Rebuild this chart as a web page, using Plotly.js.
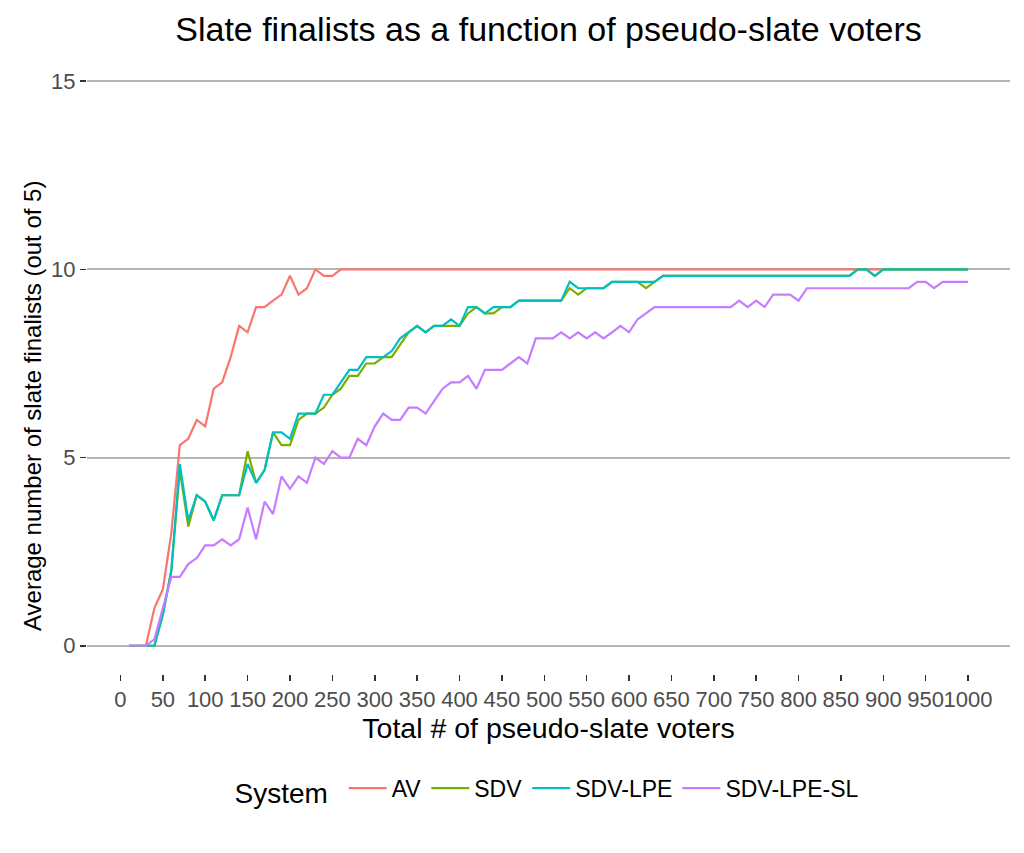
<!DOCTYPE html>
<html>
<head>
<meta charset="utf-8">
<script src="https://cdn.plot.ly/plotly-3.0.1.min.js"></script>
<style>
  html, body { margin: 0; padding: 0; background: #ffffff; }
  #chart { width: 1024px; height: 853px; }
</style>
</head>
<body>
<div id="chart"></div>
<script>
// Total # of pseudo-slate voters
const voters = [10, 20, 30, 40, 50, 60, 70, 80, 90, 100,
  110, 120, 130, 140, 150, 160, 170, 180, 190, 200,
  210, 220, 230, 240, 250, 260, 270, 280, 290, 300,
  310, 320, 330, 340, 350, 360, 370, 380, 390, 400,
  410, 420, 430, 440, 450, 460, 470, 480, 490, 500,
  510, 520, 530, 540, 550, 560, 570, 580, 590, 600,
  610, 620, 630, 640, 650, 660, 670, 680, 690, 700,
  710, 720, 730, 740, 750, 760, 770, 780, 790, 800,
  810, 820, 830, 840, 850, 860, 870, 880, 890, 900,
  910, 920, 930, 940, 950, 960, 970, 980, 990, 1000];

const systems = ["AV", "SDV", "SDV-LPE", "SDV-LPE-SL"];

const av = [0, 0, 0, 1.0, 1.5, 3.0, 5.33, 5.5, 6.0, 5.83,
  6.83, 7.0, 7.67, 8.5, 8.33, 9.0, 9.0, 9.17, 9.33, 9.83,
  9.33, 9.5, 10, 9.83, 9.83, 10, 10, 10, 10, 10,
  10, 10, 10, 10, 10, 10, 10, 10, 10, 10,
  10, 10, 10, 10, 10, 10, 10, 10, 10, 10,
  10, 10, 10, 10, 10, 10, 10, 10, 10, 10,
  10, 10, 10, 10, 10, 10, 10, 10, 10, 10,
  10, 10, 10, 10, 10, 10, 10, 10, 10, 10,
  10, 10, 10, 10, 10, 10, 10, 10, 10, 10,
  10, 10, 10, 10, 10, 10, 10, 10, 10, 10];

const sdv = [0, 0, 0, 0, 0.83, 2.0, 4.67, 3.17, 4.0, 3.83,
  3.33, 4.0, 4.0, 4.0, 5.17, 4.33, 4.67, 5.67, 5.33, 5.33,
  6.0, 6.17, 6.17, 6.33, 6.67, 6.83, 7.17, 7.17, 7.5, 7.5,
  7.67, 7.67, 8.0, 8.33, 8.5, 8.33, 8.5, 8.5, 8.5, 8.5,
  8.83, 9.0, 8.83, 8.83, 9.0, 9.0, 9.17, 9.17, 9.17, 9.17,
  9.17, 9.17, 9.5, 9.33, 9.5, 9.5, 9.5, 9.67, 9.67, 9.67,
  9.67, 9.5, 9.67, 9.83, 9.83, 9.83, 9.83, 9.83, 9.83, 9.83,
  9.83, 9.83, 9.83, 9.83, 9.83, 9.83, 9.83, 9.83, 9.83, 9.83,
  9.83, 9.83, 9.83, 9.83, 9.83, 9.83, 10, 10, 9.83, 10,
  10, 10, 10, 10, 10, 10, 10, 10, 10, 10];

const sdvLpe = [0, 0, 0, 0, 0.83, 2.0, 4.83, 3.33, 4.0, 3.83,
  3.33, 4.0, 4.0, 4.0, 4.83, 4.33, 4.67, 5.67, 5.67, 5.5,
  6.17, 6.17, 6.17, 6.67, 6.67, 7.0, 7.33, 7.33, 7.67, 7.67,
  7.67, 7.83, 8.17, 8.33, 8.5, 8.33, 8.5, 8.5, 8.67, 8.5,
  9.0, 9.0, 8.83, 9.0, 9.0, 9.0, 9.17, 9.17, 9.17, 9.17,
  9.17, 9.17, 9.67, 9.5, 9.5, 9.5, 9.5, 9.67, 9.67, 9.67,
  9.67, 9.67, 9.67, 9.83, 9.83, 9.83, 9.83, 9.83, 9.83, 9.83,
  9.83, 9.83, 9.83, 9.83, 9.83, 9.83, 9.83, 9.83, 9.83, 9.83,
  9.83, 9.83, 9.83, 9.83, 9.83, 9.83, 10, 10, 9.83, 10,
  10, 10, 10, 10, 10, 10, 10, 10, 10, 10];

const sdvLpeSl = [0, 0, 0, 0.17, 1.0, 1.83, 1.83, 2.17, 2.33, 2.67,
  2.67, 2.83, 2.67, 2.83, 3.67, 2.83, 3.83, 3.5, 4.5, 4.17,
  4.5, 4.33, 5.0, 4.83, 5.17, 5.0, 5.0, 5.5, 5.33, 5.83,
  6.17, 6.0, 6.0, 6.33, 6.33, 6.17, 6.5, 6.83, 7.0, 7.0,
  7.17, 6.83, 7.33, 7.33, 7.33, 7.5, 7.67, 7.5, 8.17, 8.17,
  8.17, 8.33, 8.17, 8.33, 8.17, 8.33, 8.17, 8.33, 8.5, 8.33,
  8.67, 8.83, 9.0, 9.0, 9.0, 9.0, 9.0, 9.0, 9.0, 9.0,
  9.0, 9.0, 9.17, 9.0, 9.17, 9.0, 9.33, 9.33, 9.33, 9.17,
  9.5, 9.5, 9.5, 9.5, 9.5, 9.5, 9.5, 9.5, 9.5, 9.5,
  9.5, 9.5, 9.5, 9.67, 9.67, 9.5, 9.67, 9.67, 9.67, 9.67];

const xTickVals = [0, 50, 100, 150, 200, 250, 300, 350, 400, 450, 500,
  550, 600, 650, 700, 750, 800, 850, 900, 950, 1000];
const yTickVals = [0, 5, 10, 15];

const colors = ["#F8766D", "#7CAE00", "#00BFC4", "#C77CFF"];
const seriesValues = [av, sdv, sdvLpe, sdvLpeSl];

const FONT = '"Liberation Sans", Arial, Helvetica, sans-serif';

const traces = systems.map((name, i) => ({
  type: 'scatter',
  mode: 'lines',
  name: name,
  x: voters,
  y: seriesValues[i],
  line: { color: colors[i], width: 2.2 },
  hoverinfo: 'skip'
}));

const layout = {
  width: 1024,
  height: 853,
  paper_bgcolor: '#ffffff',
  plot_bgcolor: '#ffffff',
  margin: { l: 87, r: 14, t: 53, b: 179 },
  font: { family: FONT, color: '#000000' },
  title: {
    text: 'Slate finalists as a function of pseudo-slate voters',
    font: { family: FONT, size: 34, color: '#000000' },
    x: 0.5, xref: 'paper', xanchor: 'center',
    y: 1 - 29 / 853, yref: 'container', yanchor: 'middle'
  },
  xaxis: {
    range: [-39.5, 1049.5],
    tickmode: 'array',
    tickvals: xTickVals,
    ticktext: xTickVals.map(String),
    showgrid: false,
    zeroline: false,
    showline: false,
    ticks: 'outside',
    ticklen: 6,
    tickwidth: 1.5,
    tickcolor: '#333333',
    tickfont: { family: FONT, size: 22, color: '#4d4d4d' },
    tickangle: 0,
    title: {
      text: 'Total # of pseudo-slate voters',
      font: { family: FONT, size: 28.5, color: '#000000' },
      standoff: 3
    }
  },
  yaxis: {
    range: [-0.75, 15.75],
    tickmode: 'array',
    tickvals: yTickVals,
    ticktext: yTickVals.map(String),
    showgrid: true,
    gridcolor: '#b5b5b5',
    gridwidth: 2,
    zeroline: false,
    showline: false,
    ticks: 'outside',
    ticklen: 6,
    tickwidth: 1.5,
    tickcolor: '#333333',
    tickfont: { family: FONT, size: 22, color: '#4d4d4d' }
  },
  annotations: [{
    text: 'Average number of slate finalists (out of 5)',
    textangle: -90,
    font: { family: FONT, size: 24, color: '#000000' },
    xref: 'paper', yref: 'paper',
    x: (32 - 87) / 923, y: (674 - 406) / 621,
    xanchor: 'center', yanchor: 'middle',
    showarrow: false
  }],
  showlegend: true,
  legend: {
    orientation: 'h',
    x: 0.5, xanchor: 'center',
    y: -0.187, yanchor: 'middle',
    font: { family: FONT, size: 23, color: '#000000' },
    title: { text: 'System ', side: 'left', font: { family: FONT, size: 28, color: '#000000' } },
    bgcolor: 'rgba(0,0,0,0)',
    itemwidth: 38
  },
  hovermode: false
};

Plotly.newPlot('chart', traces, layout, { displayModeBar: false, staticPlot: true });
</script>
</body>
</html>
